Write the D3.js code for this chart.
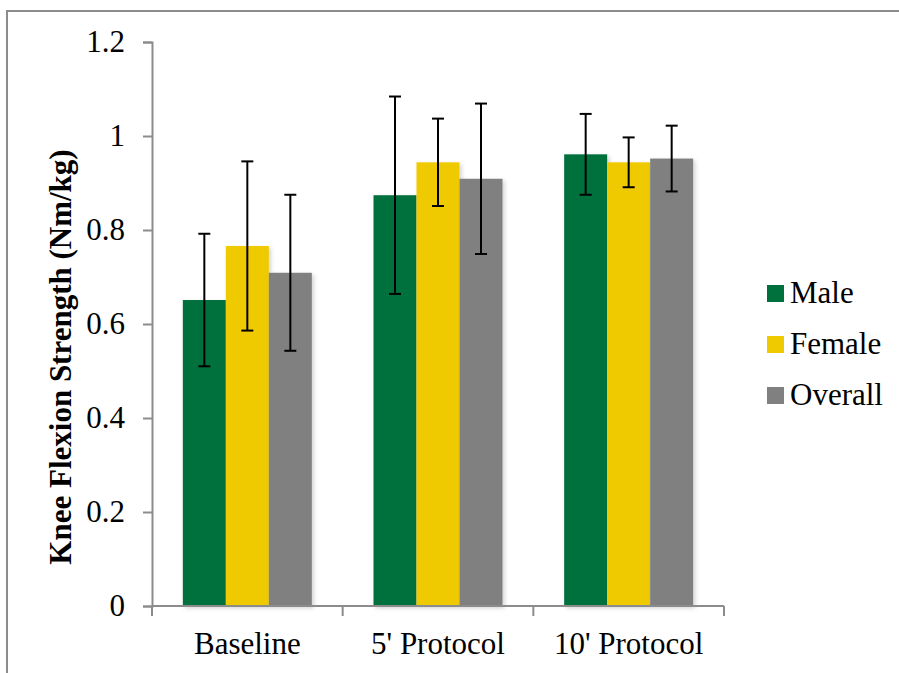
<!DOCTYPE html>
<html>
<head>
<meta charset="utf-8">
<script src="https://cdn.jsdelivr.net/npm/d3@7"></script>
<style>
  body { margin: 0; background: #fff; }
  svg { display: block; font-family: "Liberation Serif", "Times New Roman", serif; }
</style>
</head>
<body>
<div id="chart"></div>
<script>
// data
const categories = ['Baseline', "5' Protocol", "10' Protocol"];
const series = ['Male', 'Female', 'Overall'];
const colors = ['#00703c', '#f0ca00', '#808080'];
const means = [
    [0.651, 0.766, 0.709],
    [0.874, 0.944, 0.909],
    [0.961, 0.944, 0.952]
];
const errors = [
    [0.141, 0.180, 0.166],
    [0.210, 0.093, 0.160],
    [0.086, 0.053, 0.070]
];
const yTicks = [0, 0.2, 0.4, 0.6, 0.8, 1, 1.2];

const width = 899;
const height = 673;

const svg = d3.select('#chart')
    .append('svg')
    .attr('width', width)
    .attr('height', height);

// outer frame
svg.append('rect')
    .attr('x', 7)
    .attr('y', 11)
    .attr('width', width)
    .attr('height', height)
    .attr('fill', 'none')
    .attr('stroke', '#8c8c8c')
    .attr('stroke-width', 2);

const plot = { left: 152, right: 724, top: 42, bottom: 606 };

const x0 = d3.scaleBand()
    .domain(categories)
    .range([plot.left, plot.right]);
const inner = 129;
const pad = (x0.bandwidth() - inner) / 2;
const x1 = d3.scaleBand()
    .domain(series)
    .range([pad, pad + inner]);
const y = d3.scaleLinear()
    .domain([0, 1.2])
    .range([plot.bottom, plot.top]);

// soft shadow like the original
const defs = svg.append('defs');
const f = defs.append('filter').attr('id', 'shadow')
    .attr('x', '-10%').attr('y', '-10%').attr('width', '130%').attr('height', '130%');
f.append('feDropShadow')
    .attr('dx', 2).attr('dy', 2).attr('stdDeviation', 2)
    .attr('flood-color', '#000').attr('flood-opacity', 0.18);

// bars
const rows = [];
categories.forEach((c, i) => {
    series.forEach((s, j) => {
        rows.push({ cat: c, ser: s, j: j, value: means[i][j], err: errors[i][j] });
    });
});

svg.append('g')
    .selectAll('rect')
    .data(rows)
    .enter()
    .append('rect')
    .attr('x', d => x0(d.cat) + x1(d.ser))
    .attr('y', d => y(d.value))
    .attr('width', x1.bandwidth())
    .attr('height', d => y(0) - y(d.value))
    .attr('fill', d => colors[d.j])
    .attr('filter', 'url(#shadow)');

// error bars
const eb = svg.append('g')
    .attr('stroke', '#000')
    .attr('stroke-width', 2);
const cx = d => x0(d.cat) + x1(d.ser) + x1.bandwidth() / 2;
eb.selectAll('.stem')
    .data(rows)
    .enter()
    .append('line')
    .attr('x1', cx).attr('x2', cx)
    .attr('y1', d => y(d.value + d.err))
    .attr('y2', d => y(d.value - d.err));
eb.selectAll('.capt')
    .data(rows)
    .enter()
    .append('line')
    .attr('x1', d => cx(d) - 6).attr('x2', d => cx(d) + 6)
    .attr('y1', d => y(d.value + d.err))
    .attr('y2', d => y(d.value + d.err));
eb.selectAll('.capb')
    .data(rows)
    .enter()
    .append('line')
    .attr('x1', d => cx(d) - 6).attr('x2', d => cx(d) + 6)
    .attr('y1', d => y(d.value - d.err))
    .attr('y2', d => y(d.value - d.err));

// y axis
const yAxis = d3.axisLeft(y)
    .tickValues(yTicks)
    .tickFormat(d => d3.format('')(+d.toFixed(1)))
    .tickSize(9)
    .tickPadding(18);
const gy = svg.append('g')
    .attr('transform', `translate(${plot.left},0)`)
    .call(yAxis);

// x axis: ticks at band edges
const gx = svg.append('g')
    .attr('transform', `translate(0,${plot.bottom})`);
gx.append('line')
    .attr('x1', plot.left).attr('x2', plot.right)
    .attr('stroke', '#8c8c8c').attr('stroke-width', 2);
const edges = categories.map(c => x0(c)).concat([plot.right]);
gx.selectAll('.xt')
    .data(edges)
    .enter()
    .append('line')
    .attr('x1', d => d).attr('x2', d => d)
    .attr('y1', 0).attr('y2', 10)
    .attr('stroke', '#8c8c8c').attr('stroke-width', 2);
gx.selectAll('.xl')
    .data(categories)
    .enter()
    .append('text')
    .attr('x', d => x0(d) + x0.bandwidth() / 2)
    .attr('y', 48)
    .attr('text-anchor', 'middle')
    .style('font-size', '31px')
    .attr('fill', '#000')
    .text(d => d);

gy.select('.domain').attr('stroke', '#8c8c8c').attr('stroke-width', 2);
gy.selectAll('.tick line').attr('stroke', '#8c8c8c').attr('stroke-width', 2);
gy.selectAll('.tick text')
    .style('font-size', '31px')
    .style('font-family', '"Liberation Serif", "Times New Roman", serif')
    .attr('fill', '#000');

// y title
svg.append('text')
    .attr('transform', `translate(71,357) rotate(-90)`)
    .attr('text-anchor', 'middle')
    .style('font-size', '31px')
    .style('font-weight', 'bold')
    .attr('fill', '#000')
    .text('Knee Flexion Strength (Nm/kg)');

// legend
const legend = svg.append('g')
    .selectAll('g')
    .data(series)
    .enter()
    .append('g')
    .attr('transform', (d, i) => `translate(767,${285 + i * 51})`);
legend.append('rect')
    .attr('width', 17)
    .attr('height', 17)
    .attr('fill', (d, i) => colors[i]);
legend.append('text')
    .attr('x', 23)
    .attr('y', 18)
    .style('font-size', '31px')
    .attr('fill', '#000')
    .text(d => d);
</script>
</body>
</html>
